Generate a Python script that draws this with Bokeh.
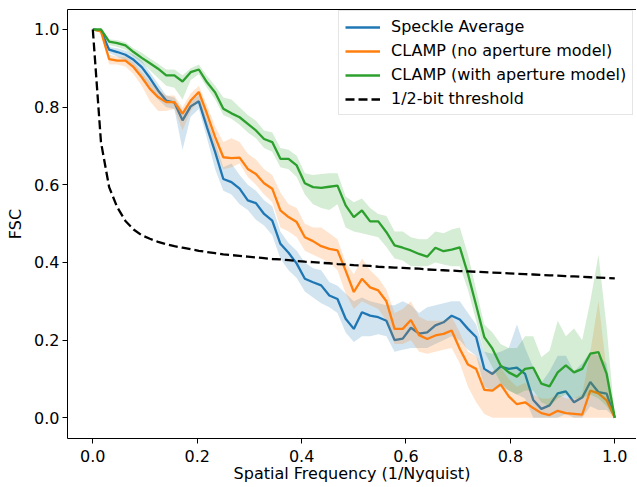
from bokeh.plotting import figure
from bokeh.models import Range1d, Legend, LegendItem, LinearAxis, FixedTicker, PrintfTickFormatter
from bokeh.embed import file_html
from bokeh.resources import INLINE

N = 64
freq = [i / N for i in range(N + 1)]

speckle = [1.0, 0.997, 0.948, 0.942, 0.935, 0.922, 0.903, 0.875, 0.843, 0.817,
           0.812, 0.766, 0.802, 0.815, 0.748, 0.684, 0.615, 0.607, 0.590, 0.560,
           0.553, 0.525, 0.508, 0.448, 0.425, 0.397, 0.358, 0.349, 0.341, 0.315,
           0.306, 0.255, 0.229, 0.272, 0.263, 0.259, 0.250, 0.200, 0.204, 0.232,
           0.217, 0.220, 0.238, 0.246, 0.263, 0.253, 0.229, 0.208, 0.126, 0.113,
           0.132, 0.126, 0.129, 0.113, 0.046, 0.023, 0.032, 0.063, 0.068, 0.040,
           0.052, 0.092, 0.066, 0.062, 0.0]
speckle_hi = [1.0, 1.0, 0.955, 0.952, 0.945, 0.935, 0.92, 0.89, 0.86, 0.83,
              0.825, 0.79, 0.82, 0.83, 0.77, 0.71, 0.645, 0.655, 0.625, 0.60,
              0.585, 0.56, 0.545, 0.48, 0.45, 0.43, 0.40, 0.385, 0.38, 0.35,
              0.34, 0.32, 0.30, 0.31, 0.30, 0.295, 0.29, 0.29, 0.30, 0.29,
              0.27, 0.285, 0.29, 0.295, 0.30, 0.30, 0.27, 0.24, 0.17, 0.165,
              0.17, 0.18, 0.24, 0.18, 0.13, 0.09, 0.12, 0.16, 0.16, 0.12,
              0.14, 0.17, 0.16, 0.14, 0.0]
speckle_lo = [1.0, 0.995, 0.94, 0.93, 0.92, 0.905, 0.88, 0.85, 0.82, 0.80,
              0.795, 0.69, 0.775, 0.795, 0.72, 0.64, 0.585, 0.575, 0.55, 0.535,
              0.51, 0.495, 0.47, 0.41, 0.38, 0.36, 0.325, 0.31, 0.295, 0.285,
              0.27, 0.22, 0.195, 0.21, 0.21, 0.215, 0.21, 0.17, 0.175, 0.18,
              0.18, 0.18, 0.19, 0.20, 0.21, 0.20, 0.175, 0.16, 0.08, 0.07,
              0.08, 0.07, 0.06, 0.05, 0.0, 0.0, 0.0, 0.0, 0.01, 0.0,
              0.0, 0.03, 0.02, 0.02, 0.0]

clamp_no = [1.0, 0.995, 0.924, 0.920, 0.920, 0.903, 0.877, 0.847, 0.826, 0.813,
            0.813, 0.783, 0.817, 0.839, 0.783, 0.723, 0.671, 0.669, 0.670, 0.641,
            0.628, 0.604, 0.590, 0.534, 0.517, 0.504, 0.465, 0.455, 0.442, 0.435,
            0.431, 0.379, 0.324, 0.358, 0.336, 0.328, 0.300, 0.229, 0.229, 0.252,
            0.213, 0.203, 0.212, 0.216, 0.225, 0.177, 0.137, 0.126, 0.072, 0.070,
            0.086, 0.055, 0.035, 0.040, 0.025, 0.012, 0.007, 0.018, 0.012, 0.010,
            0.008, 0.070, 0.063, 0.045, 0.0]
clamp_no_hi = [1.0, 1.0, 0.935, 0.93, 0.93, 0.915, 0.89, 0.865, 0.845, 0.83,
               0.83, 0.80, 0.835, 0.855, 0.805, 0.75, 0.71, 0.72, 0.71, 0.68,
               0.665, 0.64, 0.625, 0.58, 0.55, 0.54, 0.50, 0.49, 0.49, 0.475,
               0.46, 0.40, 0.37, 0.41, 0.38, 0.36, 0.33, 0.27, 0.28, 0.30,
               0.26, 0.25, 0.25, 0.25, 0.26, 0.22, 0.17, 0.16, 0.12, 0.12,
               0.13, 0.10, 0.08, 0.09, 0.06, 0.05, 0.05, 0.06, 0.05, 0.05,
               0.06, 0.17, 0.30, 0.12, 0.0]
clamp_no_lo = [1.0, 0.99, 0.91, 0.91, 0.905, 0.885, 0.855, 0.815, 0.79, 0.79,
               0.795, 0.74, 0.79, 0.815, 0.755, 0.69, 0.64, 0.645, 0.655, 0.62,
               0.60, 0.575, 0.555, 0.49, 0.48, 0.465, 0.43, 0.42, 0.41, 0.40,
               0.38, 0.32, 0.28, 0.30, 0.29, 0.28, 0.25, 0.19, 0.19, 0.20,
               0.17, 0.165, 0.17, 0.175, 0.18, 0.14, 0.08, 0.04, 0.01, 0.0,
               0.0, 0.0, 0.0, 0.0, 0.0, 0.0, 0.0, 0.0, 0.0, 0.0,
               0.0, 0.0, 0.0, 0.0, 0.0]

clamp_ap = [1.0, 1.0, 0.969, 0.965, 0.959, 0.942, 0.927, 0.913, 0.899, 0.882,
            0.882, 0.866, 0.890, 0.897, 0.864, 0.838, 0.796, 0.784, 0.774, 0.757,
            0.740, 0.718, 0.710, 0.667, 0.667, 0.650, 0.604, 0.594, 0.592, 0.595,
            0.598, 0.547, 0.517, 0.534, 0.506, 0.506, 0.478, 0.444, 0.438, 0.431,
            0.422, 0.415, 0.438, 0.429, 0.433, 0.439, 0.370, 0.290, 0.208, 0.178,
            0.135, 0.117, 0.106, 0.126, 0.129, 0.088, 0.081, 0.117, 0.135, 0.117,
            0.126, 0.165, 0.169, 0.113, 0.0]
clamp_ap_hi = [1.0, 1.0, 0.975, 0.972, 0.967, 0.952, 0.94, 0.925, 0.912, 0.897,
               0.897, 0.882, 0.90, 0.91, 0.88, 0.855, 0.825, 0.82, 0.80, 0.78,
               0.765, 0.74, 0.735, 0.695, 0.69, 0.675, 0.63, 0.625, 0.628, 0.63,
               0.63, 0.57, 0.555, 0.565, 0.54, 0.525, 0.52, 0.48, 0.48, 0.465,
               0.46, 0.46, 0.48, 0.475, 0.485, 0.49, 0.42, 0.33, 0.24, 0.22,
               0.19, 0.18, 0.18, 0.21, 0.21, 0.156, 0.173, 0.25, 0.21, 0.23,
               0.20, 0.30, 0.42, 0.233, 0.0]
clamp_ap_lo = [1.0, 1.0, 0.96, 0.955, 0.948, 0.93, 0.915, 0.895, 0.875, 0.855,
               0.85, 0.82, 0.87, 0.885, 0.85, 0.82, 0.78, 0.77, 0.755, 0.735,
               0.72, 0.695, 0.685, 0.645, 0.64, 0.62, 0.575, 0.55, 0.54, 0.535,
               0.55, 0.49, 0.48, 0.475, 0.47, 0.465, 0.44, 0.41, 0.405, 0.39,
               0.39, 0.39, 0.40, 0.395, 0.39, 0.39, 0.33, 0.25, 0.17, 0.13,
               0.09, 0.07, 0.06, 0.07, 0.07, 0.04, 0.03, 0.05, 0.06, 0.05,
               0.05, 0.06, 0.05, 0.03, 0.0]

half_bit = [1.0, 0.71, 0.594, 0.542, 0.507, 0.485, 0.470, 0.461, 0.453, 0.447,
            0.442, 0.438, 0.434, 0.430, 0.427, 0.424, 0.421, 0.419, 0.417, 0.415,
            0.413, 0.411, 0.409, 0.408, 0.406, 0.404, 0.402, 0.401, 0.399, 0.398,
            0.396, 0.395, 0.393, 0.392, 0.391, 0.389, 0.388, 0.387, 0.386, 0.385,
            0.384, 0.382, 0.381, 0.380, 0.379, 0.378, 0.377, 0.376, 0.375, 0.374,
            0.373, 0.372, 0.371, 0.370, 0.369, 0.368, 0.367, 0.366, 0.365, 0.364,
            0.363, 0.362, 0.361, 0.360, 0.359]

labels = ["Speckle Average", "CLAMP (no aperture model)",
          "CLAMP (with aperture model)", "1/2-bit threshold"]
colors = ["#1f77b4", "#ff7f0e", "#2ca02c"]
ticks = [0.0, 0.2, 0.4, 0.6, 0.8, 1.0]

FONT = "DejaVu Sans"
FS = "16px"
LW = 2.3

p = figure(width=636, height=486, output_backend="svg", toolbar_location=None,
           x_range=Range1d(-0.0485, 1.0416), y_range=Range1d(-0.0533, 1.0515),
           min_border_left=67, min_border_right=0, min_border_top=9,
           min_border_bottom=48)
p.outline_line_color = None
p.xgrid.visible = False
p.ygrid.visible = False
p.background_fill_color = "white"

for ax, lab in ((p.xaxis[0], "Spatial Frequency (1/Nyquist)"), (p.yaxis[0], "FSC")):
    ax.ticker = FixedTicker(ticks=ticks)
    ax.formatter = PrintfTickFormatter(format="%.1f")
    ax.axis_label = lab
    ax.axis_label_text_font = FONT
    ax.axis_label_text_font_size = FS
    ax.axis_label_text_font_style = "normal"
    ax.axis_label_text_color = "black"
    ax.major_label_text_font = FONT
    ax.major_label_text_font_size = FS
    ax.major_label_text_color = "black"
    ax.major_tick_in = 0
    ax.major_tick_out = 5
    ax.minor_tick_line_color = None
    ax.axis_line_color = "black"
    ax.major_tick_line_color = "black"
p.xaxis[0].major_label_standoff = 6
p.xaxis[0].axis_label_standoff = -1
p.yaxis[0].major_label_standoff = 3
p.yaxis[0].axis_label_standoff = 6

top_axis = LinearAxis(ticker=FixedTicker(ticks=[]), major_label_text_font_size="0px",
                      major_tick_out=0, major_tick_in=0, major_label_standoff=0,
                      minor_tick_line_color=None, major_tick_line_color=None,
                      axis_line_color="black")
p.add_layout(top_axis, "above")

bands = [(speckle_lo, speckle_hi), (clamp_no_lo, clamp_no_hi), (clamp_ap_lo, clamp_ap_hi)]
series = [speckle, clamp_no, clamp_ap]

items = []
for (lo, hi), ys, c, lab in zip(bands, series, colors, labels):
    r_line = p.line(freq, ys, line_color=c, line_width=LW)
    p.varea(x=freq, y1=lo, y2=hi, fill_color=c, fill_alpha=0.2)
    items.append(LegendItem(label=lab, renderers=[r_line]))

r_thr = p.line(freq, half_bit, line_color="black", line_width=LW, line_dash="9 4")
items.append(LegendItem(label=labels[3], renderers=[r_thr]))

legend = Legend(items=items, location=(271, 323), orientation="vertical",
                label_text_font=FONT, label_text_font_size=FS,
                label_text_color="black",
                glyph_width=35, glyph_height=18, label_height=18, spacing=5,
                padding=6, label_standoff=11, margin=0,
                border_line_color="#cccccc", border_line_width=1,
                background_fill_alpha=0.8)
p.add_layout(legend, "center")

html = file_html(p, INLINE)
open("out.html", "w").write(html)
